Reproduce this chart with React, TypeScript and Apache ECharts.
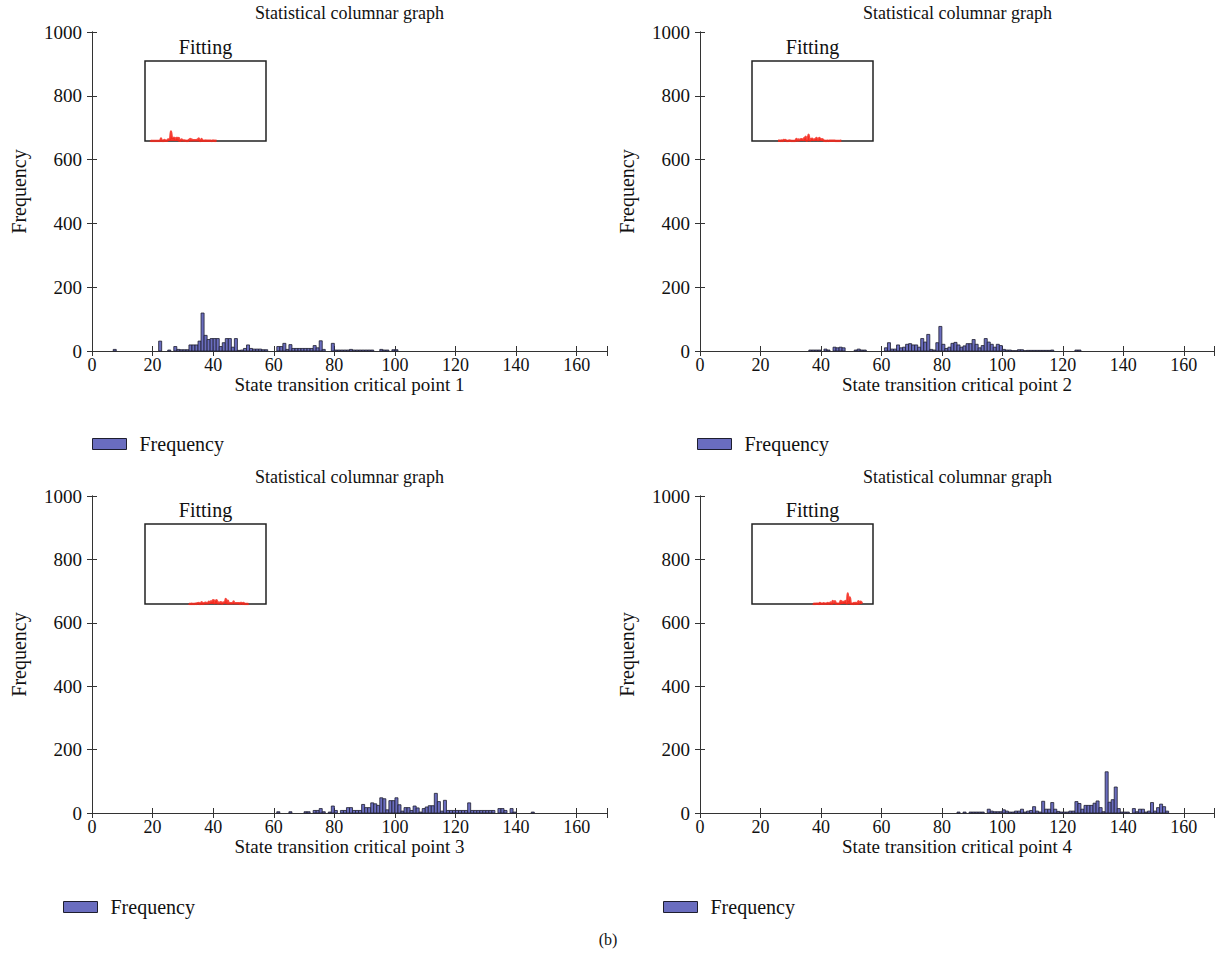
import React, { useEffect, useRef } from "react";
import * as echarts from "echarts";

// ---- data (histogram bins of width 1, values start at the given first bin) ----
const xTicks = [0, 20, 40, 60, 80, 100, 120, 140, 160];
const yTicks = [0, 200, 400, 600, 800, 1000];

const start1 = 7;
const freq1 = [5, 0, 0, 0, 0, 0, 0, 0, 0, 0, 0, 0, 0, 0, 0, 31, 0, 0, 3, 0, 14, 5, 4, 4, 4, 19, 19, 19, 31, 119, 49, 36, 39, 39, 39, 14, 26, 39, 39, 12, 39, 2, 3, 8, 19, 8, 6, 6, 6, 4, 4, 0, 0, 0, 14, 14, 24, 5, 20, 8, 8, 8, 8, 8, 8, 8, 17, 10, 32, 5, 0, 0, 24, 3, 3, 3, 3, 3, 5, 3, 3, 3, 3, 3, 3, 3, 0, 0, 5, 3, 3, 0, 4, 4];

const start2 = 36;
const freq2 = [3, 3, 3, 3, 0, 6, 3, 0, 12, 10, 12, 10, 0, 0, 0, 3, 6, 3, 3, 0, 0, 0, 0, 0, 0, 10, 26, 6, 6, 19, 10, 12, 21, 23, 19, 19, 12, 39, 28, 52, 5, 3, 26, 77, 21, 8, 12, 24, 27, 19, 12, 16, 23, 23, 36, 21, 10, 17, 39, 28, 21, 12, 21, 17, 5, 3, 3, 1, 1, 4, 4, 1, 2, 2, 2, 2, 2, 2, 2, 2, 3, 0, 0, 0, 0, 0, 0, 0, 3, 3];

const start3 = 61;
const freq3 = [4, 0, 0, 0, 4, 0, 0, 0, 0, 4, 4, 0, 8, 8, 14, 4, 0, 3, 22, 8, 0, 8, 8, 17, 17, 8, 8, 8, 27, 17, 17, 32, 29, 24, 48, 45, 10, 39, 39, 48, 26, 6, 17, 17, 8, 22, 16, 3, 14, 19, 23, 23, 62, 36, 6, 40, 8, 8, 8, 8, 8, 8, 8, 32, 8, 8, 8, 8, 8, 8, 8, 8, 0, 14, 14, 8, 0, 14, 3, 0, 0, 0, 0, 0, 3];

const start4 = 85;
const freq4 = [3, 0, 3, 0, 3, 3, 3, 3, 3, 0, 12, 6, 4, 4, 4, 10, 6, 3, 3, 6, 6, 12, 3, 6, 8, 20, 6, 3, 37, 12, 12, 33, 12, 5, 3, 3, 3, 6, 6, 36, 30, 12, 24, 24, 24, 31, 38, 17, 4, 130, 34, 42, 82, 14, 3, 3, 3, 0, 14, 4, 12, 12, 3, 6, 33, 6, 17, 28, 20, 6];

const xNames = [
  "State transition critical point 1",
  "State transition critical point 2",
  "State transition critical point 3",
  "State transition critical point 4",
];
const starts = [start1, start2, start3, start4];
const freqs = [freq1, freq2, freq3, freq4];

// ---- layout / style ----
const FONT = "'Liberation Serif', 'Times New Roman', Times, serif";
const BAR_FILL = "#6a6dbf";
const BAR_EDGE = "#1e1e2e";
const RED = "#f4281c";
const AXIS = "#333";
const TEXT = "#111";

const layout = [
  { left: 92, top: 32, h: 319, insetLeft: 145, insetTop: 61, legLeft: 92, legTop: 434 },
  { left: 700, top: 32, h: 319, insetLeft: 752, insetTop: 61, legLeft: 697, legTop: 434 },
  { left: 92, top: 496, h: 317, insetLeft: 145, insetTop: 524, legLeft: 63, legTop: 897 },
  { left: 700, top: 496, h: 317, insetLeft: 752, insetTop: 524, legLeft: 663, legTop: 897 },
];
const PLOT_W = 515;
const INSET_W = 121;
const INSET_H = 80;
const X_MAX = 170;

function buildOption() {
  const grid: any[] = [];
  const xAxis: any[] = [];
  const yAxis: any[] = [];
  const series: any[] = [];
  const title: any[] = [];
  const legend: any[] = [];

  layout.forEach((L, i) => {
    const gMain = grid.length;
    grid.push({ left: L.left, top: L.top, width: PLOT_W, height: L.h, containLabel: false });
    const gInset = grid.length;
    grid.push({
      left: L.insetLeft,
      top: L.insetTop,
      width: INSET_W,
      height: INSET_H,
      show: true,
      backgroundColor: "#fff",
      borderColor: "#222",
      borderWidth: 1.5,
      z: 5,
    });

    const xb = xAxis.length;
    xAxis.push({
      gridIndex: gMain,
      type: "value",
      position: "bottom",
      min: 0,
      max: X_MAX,
      interval: 20,
      splitLine: { show: false },
      axisLine: { show: true, lineStyle: { color: AXIS, width: 1 } },
      axisTick: { show: true, inside: true, length: 5, lineStyle: { color: AXIS } },
      axisLabel: {
        margin: 5,
        fontFamily: FONT,
        fontSize: 18,
        color: TEXT,
        formatter: (v: number) => (xTicks.includes(v) ? String(v) : ""),
      },
      name: xNames[i],
      nameLocation: "middle",
      nameGap: 18,
      nameTextStyle: { fontFamily: FONT, fontSize: 19, color: TEXT },
    });
    xAxis.push({
      gridIndex: gMain,
      type: "value",
      position: "top",
      min: 0,
      max: X_MAX,
      interval: 20,
      splitLine: { show: false },
      axisLine: { show: true, lineStyle: { color: AXIS, width: 1 } },
      axisTick: { show: true, inside: true, length: 5, lineStyle: { color: AXIS } },
      axisLabel: { show: false },
    });
    const xi = xAxis.length;
    xAxis.push({ gridIndex: gInset, type: "value", min: 0, max: X_MAX, show: false });

    const yl = yAxis.length;
    yAxis.push({
      gridIndex: gMain,
      type: "value",
      position: "left",
      min: 0,
      max: 1000,
      interval: 200,
      splitLine: { show: false },
      axisLine: { show: true, lineStyle: { color: AXIS, width: 1 } },
      axisTick: { show: true, inside: true, length: 5, lineStyle: { color: AXIS } },
      axisLabel: {
        margin: 10,
        fontFamily: FONT,
        fontSize: 19,
        color: TEXT,
        formatter: (v: number) => (yTicks.includes(v) ? String(v) : ""),
      },
      name: "Frequency",
      nameLocation: "middle",
      nameGap: 63,
      nameTextStyle: { fontFamily: FONT, fontSize: 20, color: TEXT },
    });
    yAxis.push({
      gridIndex: gMain,
      type: "value",
      position: "right",
      min: 0,
      max: 1000,
      interval: 200,
      splitLine: { show: false },
      axisLine: { show: true, lineStyle: { color: AXIS, width: 1 } },
      axisTick: { show: true, inside: true, length: 5, lineStyle: { color: AXIS } },
      axisLabel: { show: false },
    });
    const yi = yAxis.length;
    yAxis.push({ gridIndex: gInset, type: "value", min: 0, max: 1000, show: false });

    const st = starts[i];
    const vals = freqs[i];
    const barData = vals.map((v, k) => [st + k, v]).filter((d) => d[1] > 0);

    series.push({
      name: "Frequency",
      type: "custom",
      xAxisIndex: xb,
      yAxisIndex: yl,
      data: barData,
      encode: { x: 0, y: 1 },
      itemStyle: { color: BAR_FILL, borderColor: BAR_EDGE, borderWidth: 0.8 },
      renderItem: (params: any, api: any) => {
        const b = api.value(0);
        const v = api.value(1);
        const p0 = api.coord([b, v]);
        const p1 = api.coord([b + 1, 0]);
        return {
          type: "rect",
          shape: { x: p0[0], y: p0[1], width: p1[0] - p0[0], height: p1[1] - p0[1] },
          style: { fill: BAR_FILL, stroke: BAR_EDGE, lineWidth: 0.8 },
        };
      },
    });

    series.push({
      name: "Fitting",
      type: "line",
      xAxisIndex: xi,
      yAxisIndex: yi,
      data: vals.map((v, k) => [st + k + 0.5, v]),
      symbol: "none",
      smooth: 0.2,
      z: 6,
      lineStyle: { color: RED, width: 2.5, opacity: 0.85 },
      areaStyle: { color: RED, opacity: 0.9, origin: "start" },
    });

    title.push({
      text: "Statistical columnar graph",
      left: L.left + PLOT_W / 2,
      top: L.top - 28,
      textAlign: "center",
      padding: 0,
      textStyle: { fontFamily: FONT, fontSize: 18, fontWeight: "normal", color: TEXT },
    });
    title.push({
      text: "Fitting",
      left: L.insetLeft + INSET_W / 2,
      top: L.insetTop - 24,
      textAlign: "center",
      padding: 0,
      textStyle: { fontFamily: FONT, fontSize: 20, fontWeight: "normal", color: TEXT },
    });

    legend.push({
      data: ["Frequency"],
      left: L.legLeft,
      top: L.legTop,
      icon: "rect",
      itemWidth: 34,
      itemHeight: 11,
      padding: 0,
      selectedMode: false,
      itemStyle: { color: BAR_FILL, borderColor: BAR_EDGE, borderWidth: 1 },
      textStyle: { fontFamily: FONT, fontSize: 20, color: TEXT, padding: [0, 0, 0, 8] },
    });
  });

  title.push({
    text: "(b)",
    left: 608,
    top: 931,
    textAlign: "center",
    padding: 0,
    textStyle: { fontFamily: FONT, fontSize: 16, fontWeight: "normal", color: TEXT },
  });

  return {
    animation: false,
    backgroundColor: "#fff",
    title,
    legend,
    grid,
    xAxis,
    yAxis,
    series,
  };
}

export default function App() {
  const ref = useRef<HTMLDivElement>(null);
  useEffect(() => {
    if (!ref.current) return;
    const chart = echarts.init(ref.current, undefined, { renderer: "svg" });
    chart.setOption(buildOption() as any);
    return () => chart.dispose();
  }, []);
  return (
    <div
      ref={ref}
      style={{ position: "fixed", left: 0, top: 0, width: 1217, height: 955, background: "#fff" }}
    />
  );
}
